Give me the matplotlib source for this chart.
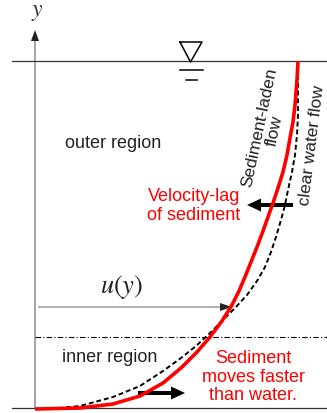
import numpy as np
import matplotlib.pyplot as plt

plt.rcParams['font.family'] = ['Liberation Sans', 'DejaVu Sans']
plt.rcParams['mathtext.fontset'] = 'stix'

# velocity profiles (x = velocity, y = depth, both in sketch units, y downward)
sed_x = [298, 297, 295, 293, 290, 287, 283, 278, 273, 268, 263, 257, 251, 245,
         239, 232, 222, 210, 197, 181, 163, 140, 113, 80, 35]
sed_y = [61, 80, 105, 122, 138, 155, 172, 188, 203, 217, 231, 247, 262, 277,
         291, 305, 321, 337, 352, 368, 383, 396, 404, 408, 409]
clear_x = [298, 298, 298, 297, 295, 292, 288, 285, 281, 276, 271, 265, 257, 247,
           235, 222, 209, 196, 181, 163, 140, 113, 80, 60]
clear_y = [75, 95, 115, 135, 155, 172, 190, 205, 220, 237, 252, 267, 281, 295,
           308, 321, 334, 346, 358, 371, 386, 397, 406, 408]

surface_y = 61
bed_y = 408
interface_y = 337
u_arrow_y = 307

fig = plt.figure(figsize=(3.27, 4.13), dpi=100)
ax = fig.add_axes([0, 0, 1, 1])
ax.set_xlim(0, 327)
ax.set_ylim(413, 0)
ax.axis('off')

# water surface, bed and inner/outer boundary
ax.plot([12, 327], [surface_y, surface_y], color='#333333', lw=0.9)
ax.plot([12, 327], [bed_y, bed_y], color='#333333', lw=0.9)
ax.plot([35, 327], [interface_y, interface_y], color='k', lw=0.8,
        dashes=(5, 2, 1, 2))

# y axis
ax.arrow(35, bed_y, 0, 30 - bed_y, width=0.8, head_width=8, head_length=11,
         length_includes_head=True, color='#222222', lw=0)
ax.text(37, 12, '$y$', fontsize=17, ha='center', va='center', color='#333333')

# free-surface symbol
ax.plot([180, 202, 190.5, 180], [42, 42, 62, 42], color='k', lw=1.1)
ax.plot([180, 203], [70, 70], color='k', lw=1.1)
ax.plot([186, 197], [80, 80], color='k', lw=1.1)

# profiles
ax.plot(clear_x, clear_y, color='k', lw=1.4, ls=(0, (2.5, 1.5)))
ax.plot(sed_x, sed_y, color='#ff0000', lw=2.6, solid_capstyle='butt',
        solid_joinstyle='round')

# u(y)
ax.arrow(38, u_arrow_y, 194, 0, width=0.7, head_width=8, head_length=12,
         length_includes_head=True, color='#222222', lw=0)
ax.text(122, 287, r'$u\left(y\right)$', fontsize=19, ha='center', va='center',
        color='#222222')

# velocity-lag arrows
ax.arrow(293, 205, -46, 0, width=4, head_width=13, head_length=14,
         length_includes_head=True, color='k', lw=0)
ax.arrow(138, 393, 47, 0, width=4, head_width=13, head_length=14,
         length_includes_head=True, color='k', lw=0)

ax.text(113, 143, 'outer region', fontsize=13, ha='center', va='center', color='#222222')
ax.text(110, 357, 'inner region', fontsize=13, ha='center', va='center', color='#222222')
ax.text(240, 206, 'Velocity-lag\nof sediment', fontsize=13, ha='right', va='center',
        color='#ff0000', multialignment='right', linespacing=1.15)
ax.text(253, 377, 'Sediment\nmoves faster\nthan water.', fontsize=13, ha='center',
        va='center', color='#ff0000', linespacing=1.15)
ax.text(267, 129, 'Sediment-laden\nflow', fontsize=12.5, ha='center', va='center',
        rotation=78, rotation_mode='anchor', color='#222222', linespacing=1.1)
ax.text(312, 145, 'clear water flow', fontsize=12.5, ha='center', va='center',
        rotation=83, rotation_mode='anchor', color='#222222')

fig.savefig('out.png', dpi=100)
